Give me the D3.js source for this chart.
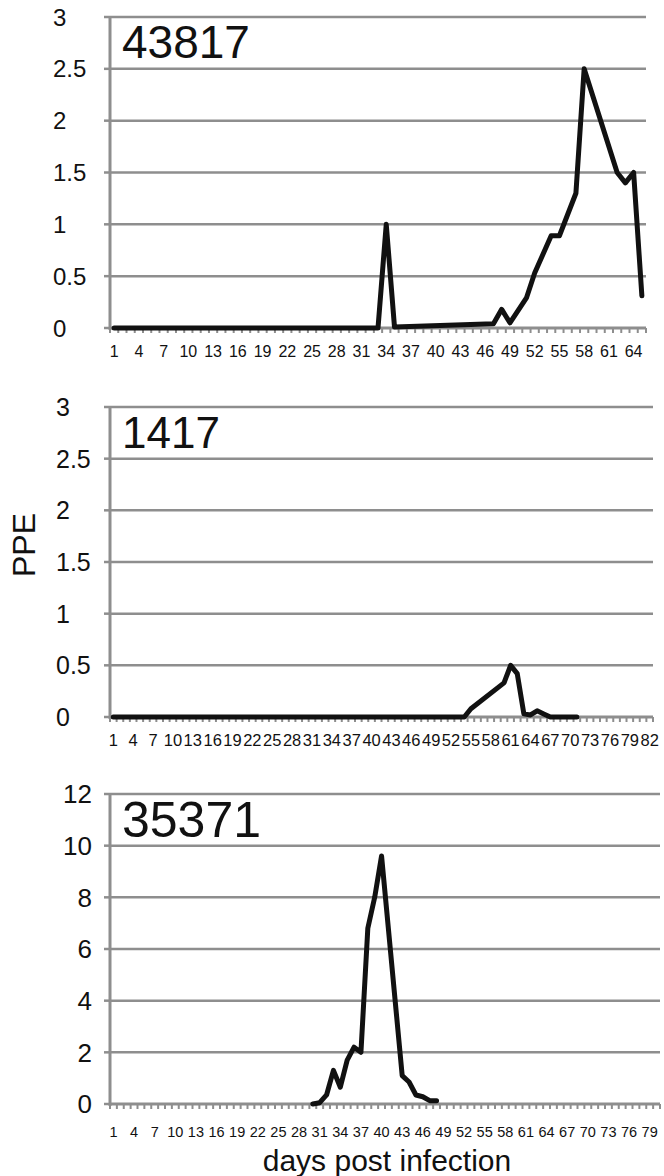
<!DOCTYPE html>
<html>
<head>
<meta charset="utf-8">
<script src="https://cdn.jsdelivr.net/npm/d3@7/dist/d3.min.js"></script>
<style>
  html, body { margin: 0; padding: 0; background: #fff; }
  svg { display: block; }
  text { font-family: "Liberation Sans", Arial, sans-serif; fill: #111; }
</style>
</head>
<body>
<svg id="chart" width="664" height="1176"></svg>
<script>
// ---------------- data ----------------
const titles = ["43817", "1417", "35371"];

const days43817 = [1, 33, 34, 35, 47, 48, 49, 51, 52, 54, 55, 57, 58, 62, 63, 64, 65];
const ppe43817  = [0, 0, 1.0, 0.01, 0.04, 0.18, 0.05, 0.29, 0.53, 0.89, 0.89, 1.30, 2.5, 1.5, 1.4, 1.5, 0.31];

const days1417 = [1, 54, 55, 60, 61, 62, 63, 64, 65, 66, 67, 71];
const ppe1417  = [0, 0, 0.08, 0.33, 0.5, 0.42, 0.03, 0.02, 0.06, 0.03, 0, 0];

const days35371 = [30, 31, 32, 33, 34, 35, 36, 37, 38, 39, 40, 43, 44, 45, 46, 47, 48];
const ppe35371  = [0, 0.05, 0.35, 1.3, 0.65, 1.7, 2.2, 2.0, 6.8, 8.0, 9.6, 1.1, 0.85, 0.35, 0.28, 0.13, 0.13];

const yTicksTop = [0, 0.5, 1, 1.5, 2, 2.5, 3];
const yTicksMid = [0, 0.5, 1, 1.5, 2, 2.5, 3];
const yTicksBot = [0, 2, 4, 6, 8, 10, 12];

const nCatTop = 65, nCatMid = 82, nCatBot = 80;
const yLabel = "PPE";
const xLabel = "days post infection";

// ---------------- layout ----------------
const svg = d3.select("#chart");
const gridCol = "#8e8e8e";

const panels = [
  { title: titles[0], days: days43817, vals: ppe43817, ticks: yTicksTop, n: nCatTop,
    x0: 110, x1: 646, yTop: 17, yBot: 328, ymax: 3, tickFont: 24, tickAnchor: "start", tickX: 53,
    titleSize: 46, titleY: 58, xlabY: 357, xlabFont: 16 },
  { title: titles[1], days: days1417, vals: ppe1417, ticks: yTicksMid, n: nCatMid,
    x0: 110, x1: 653, yTop: 407, yBot: 717, ymax: 3, tickFont: 25, tickAnchor: "start", tickX: 56,
    titleSize: 44, titleY: 448, xlabY: 746, xlabFont: 16.5 },
  { title: titles[2], days: days35371, vals: ppe35371, ticks: yTicksBot, n: nCatBot,
    x0: 110, x1: 660, yTop: 794, yBot: 1104, ymax: 12, tickFont: 26, tickAnchor: "end", tickX: 92,
    titleSize: 50, titleY: 837, xlabY: 1137, xlabFont: 14.5 }
];

panels.forEach(p => {
  const g = svg.append("g");
  const x = d3.scaleLinear().domain([0.5, p.n + 0.5]).range([p.x0, p.x1]);
  const y = d3.scaleLinear().domain([0, p.ymax]).range([p.yBot, p.yTop]);

  // gridlines
  g.selectAll("line.grid").data(p.ticks.filter(t => t > 0)).join("line")
    .attr("x1", p.x0).attr("x2", p.x1)
    .attr("y1", d => y(d)).attr("y2", d => y(d))
    .attr("stroke", gridCol).attr("stroke-width", 2.5);

  // y axis line + ticks
  g.append("line").attr("x1", p.x0).attr("x2", p.x0)
    .attr("y1", y(p.ymax)).attr("y2", y(0) + 2)
    .attr("stroke", gridCol).attr("stroke-width", 3);
  g.selectAll("line.yt").data(p.ticks).join("line")
    .attr("x1", p.x0 - 6).attr("x2", p.x0)
    .attr("y1", d => y(d)).attr("y2", d => y(d))
    .attr("stroke", gridCol).attr("stroke-width", 2.5);

  // y tick labels
  g.selectAll("text.yl").data(p.ticks).join("text")
    .attr("x", p.tickX).attr("y", d => y(d))
    .attr("dy", "0.36em")
    .attr("text-anchor", p.tickAnchor)
    .attr("font-size", p.tickFont)
    .text(d => d);

  // x axis line
  g.append("line").attr("x1", p.x0).attr("x2", p.x1)
    .attr("y1", y(0)).attr("y2", y(0))
    .attr("stroke", gridCol).attr("stroke-width", 3);
  // x tick marks at category boundaries
  const bounds = d3.range(0, p.n + 1).map(k => k + 0.5);
  g.selectAll("line.xt").data(bounds).join("line")
    .attr("x1", d => x(d)).attr("x2", d => x(d))
    .attr("y1", y(0)).attr("y2", y(0) + 5)
    .attr("stroke", gridCol).attr("stroke-width", 2);

  // x labels every third day
  const labs = d3.range(1, p.n + 1, 3);
  g.selectAll("text.xl").data(labs).join("text")
    .attr("x", d => x(d)).attr("y", p.xlabY)
    .attr("text-anchor", "middle")
    .attr("font-size", p.xlabFont)
    .text(d => d);

  // data line
  const pts = p.days.map((d, i) => [d, p.vals[i]]);
  g.append("path").datum(pts)
    .attr("fill", "none").attr("stroke", "#111").attr("stroke-width", 5)
    .attr("stroke-linejoin", "round").attr("stroke-linecap", "round")
    .attr("d", d3.line().x(d => x(d[0])).y(d => y(d[1])));

  // panel title
  g.append("text").attr("x", p.x0 + 12).attr("y", p.titleY)
    .attr("font-size", p.titleSize).text(p.title);
});

// axis titles
svg.append("text").attr("transform", "translate(35,545) rotate(-90)")
  .attr("text-anchor", "middle").attr("font-size", 32).text(yLabel);
svg.append("text").attr("x", 387).attr("y", 1171)
  .attr("text-anchor", "middle").attr("font-size", 30).text(xLabel);
</script>
</body>
</html>
